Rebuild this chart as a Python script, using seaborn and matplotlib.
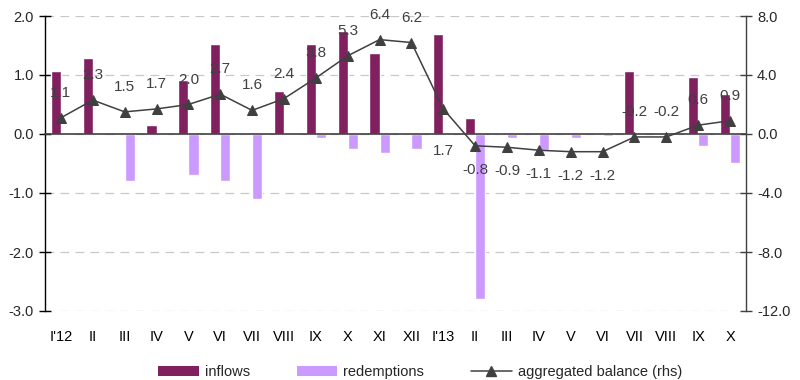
import numpy as np
import pandas as pd
import matplotlib
matplotlib.use("Agg")
import matplotlib.pyplot as plt
import seaborn as sns
from matplotlib.lines import Line2D
from matplotlib.patches import Patch

months = ["I'12", "II", "III", "IV", "V", "VI", "VII", "VIII", "IX", "X", "XI", "XII",
          "I'13", "II", "III", "IV", "V", "VI", "VII", "VIII", "IX", "X"]
inflows = [1.06, 1.28, 0.0, 0.15, 0.92, 1.52, 0.0, 0.73, 1.52, 1.75, 1.37, 0.0,
           1.69, 0.27, 0.0, 0.0, 0.0, 0.0, 1.06, 0.0, 0.97, 0.68]
redemptions = [-0.02, -0.02, -0.80, -0.02, -0.69, -0.79, -1.11, -0.02, -0.07, -0.26, -0.32, -0.25,
               -0.02, -2.80, -0.07, -0.27, -0.07, -0.04, -0.02, -0.01, -0.20, -0.49]
balance = [1.1, 2.3, 1.5, 1.7, 2.0, 2.7, 1.6, 2.4, 3.8, 5.3, 6.4, 6.2,
           1.7, -0.8, -0.9, -1.1, -1.2, -1.2, -0.2, -0.2, 0.6, 0.9]
left_ticks = [2.0, 1.0, 0.0, -1.0, -2.0, -3.0]
right_ticks = [8.0, 4.0, 0.0, -4.0, -8.0, -12.0]

sns.set_style("white")
plt.rcParams["font.family"] = ["Liberation Sans", "DejaVu Sans"]

C_IN = "#80205F"
C_RED = "#CC99FF"
C_LINE = "#404040"

idx = list(range(len(months)))
df = pd.DataFrame({
    "pos": idx * 2,
    "value": inflows + redemptions,
    "series": ["inflows"] * len(idx) + ["redemptions"] * len(idx),
})

fig = plt.figure(figsize=(8, 3.8), dpi=100)
ax = fig.add_axes([45 / 800, 1 - 311 / 380, 701 / 800, 295 / 380])

sns.barplot(data=df, x="pos", y="value", hue="series", palette=[C_IN, C_RED],
            width=0.64, dodge=True, ax=ax, legend=False, saturation=1, errorbar=None)

ax.set_xlim(-0.5, len(months) - 0.5)
ax.set_ylim(min(left_ticks), max(left_ticks))
ax.set_yticks(left_ticks)
ax.set_yticklabels([f"{t:.1f}" for t in left_ticks])
ax.set_xlabel("")
ax.set_ylabel("")

# grid
ax.yaxis.grid(True, color="#C8C8C8", linestyle=(0, (7, 5)), linewidth=0.9)
ax.set_axisbelow(True)

# spines
for s in ["top", "right"]:
    ax.spines[s].set_visible(False)
ax.spines["left"].set_color("#000000")
ax.spines["left"].set_linewidth(1.0)
ax.spines["bottom"].set_position(("data", 0))
ax.spines["bottom"].set_color(C_LINE)
ax.spines["bottom"].set_linewidth(1.2)
ax.spines["bottom"].set_zorder(3)

ax.set_xticks(idx)
ax.set_xticklabels(months)
ax.set_xticks(np.arange(0.5, len(months) - 1, 1.0), minor=True)
ax.tick_params(axis="x", which="major", length=0, pad=141, labelsize=10.5, colors="#000000")
ax.tick_params(axis="x", which="minor", length=8, direction="inout", width=1.0, color=C_LINE)
ax.tick_params(axis="y", length=8, direction="inout", width=1.0, labelsize=10.5, pad=4, color="#000000")

# balance line on rhs
ax2 = ax.twinx()
sns.lineplot(x=idx, y=balance, ax=ax2, color=C_LINE, marker="^", markersize=7,
             markeredgecolor=C_LINE, linewidth=1.1, zorder=5)
ax2.set_ylim(min(right_ticks), max(right_ticks))
ax2.set_yticks(right_ticks)
ax2.set_yticklabels([f"{t:.1f}" for t in right_ticks])
for s in ["top", "left", "bottom"]:
    ax2.spines[s].set_visible(False)
ax2.spines["right"].set_color(C_LINE)
ax2.spines["right"].set_linewidth(1.0)
ax2.tick_params(axis="y", length=8, direction="inout", width=1.0, labelsize=10.5, pad=4, color=C_LINE)
ax2.set_ylabel("")

for i, v in enumerate(balance):
    if i == 12:
        off = -42
    elif v < -0.5:
        off = -24
    else:
        off = 25
    ax2.annotate(f"{v:.1f}", (i, v), xytext=(0, off * 0.72), textcoords="offset points",
                 ha="center", va="center", fontsize=11, color=C_LINE, zorder=6)

handles = [
    Patch(facecolor=C_IN, edgecolor="none", label="inflows"),
    Patch(facecolor=C_RED, edgecolor="none", label="redemptions"),
    Line2D([0], [0], color=C_LINE, marker="^", markersize=7, linewidth=1.1, label="aggregated balance (rhs)"),
]
fig.legend(handles=handles, loc="center", bbox_to_anchor=(0.525, 1 - 372 / 380), ncol=3,
           frameon=False, fontsize=10.5, handlelength=2.8, handleheight=0.75,
           columnspacing=3.2, handletextpad=0.4)

fig.savefig("out.png", dpi=100)
